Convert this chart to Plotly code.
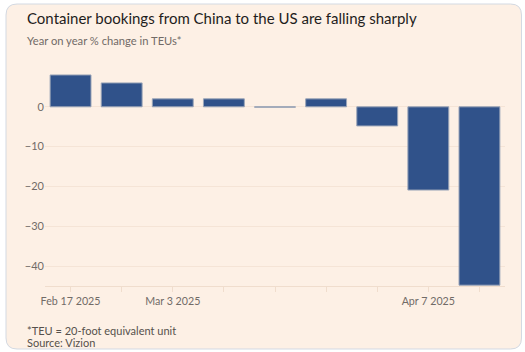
import plotly.graph_objects as go

weeks = ["2025-02-17", "2025-02-24", "2025-03-03", "2025-03-10", "2025-03-17",
         "2025-03-24", "2025-03-31", "2025-04-07", "2025-04-14"]
yoy_change = [8.0, 6.0, 2.0, 2.0, -0.1, 2.0, -4.8, -20.9, -44.8]
tick_labels = ["Feb 17 2025", "", "Mar 3 2025", "", "", "", "", "Apr 7 2025", ""]
y_ticks = [0, -10, -20, -30, -40]

W, H = 525, 352
ML, MR, MT, MB = 45, 20, 67, 66
PW, PH = W - ML - MR, H - MT - MB

def px(x):
    return (x - ML) / PW

def py(y):
    return (H - MB - y) / PH

font = "Lato, 'Noto Sans', sans-serif"

fig = go.Figure()
fig.add_trace(go.Bar(
    x=weeks, y=yoy_change,
    marker=dict(color="#30528A", line=dict(color="#9ba5b8", width=1)),
    hoverinfo="skip",
))

# rounded card background
x0, x1, y0, y1, r = 6, 521.5, 4, 349, 11
path = (
    f"M {px(x0 + r)},{py(y0)} L {px(x1 - r)},{py(y0)} "
    f"Q {px(x1)},{py(y0)} {px(x1)},{py(y0 + r)} "
    f"L {px(x1)},{py(y1 - r)} Q {px(x1)},{py(y1)} {px(x1 - r)},{py(y1)} "
    f"L {px(x0 + r)},{py(y1)} Q {px(x0)},{py(y1)} {px(x0)},{py(y1 - r)} "
    f"L {px(x0)},{py(y0 + r)} Q {px(x0)},{py(y0)} {px(x0 + r)},{py(y0)} Z"
)
fig.add_shape(type="path", path=path, xref="paper", yref="paper",
              fillcolor="#FDF0E5", line=dict(color="#d3d9e2", width=1),
              layer="below")

anns = [
    ("Container bookings from China to the US are falling sharply", 25, 18, 15, "#1f1d1c"),
    ("Year on year % change in TEUs*", 25, 41, 11.2, "#716b67"),
    ("*TEU = 20-foot equivalent unit", 25, 330, 11, "#55504c"),
    ("Source: Vizion", 25, 342.5, 11, "#55504c"),
]
for text, x, y, size, color in anns:
    fig.add_annotation(text=text, x=px(x), y=py(y), xref="paper", yref="paper",
                       xanchor="left", yanchor="middle", showarrow=False,
                       font=dict(family=font, size=size, color=color))

fig.update_layout(
    width=W, height=H,
    margin=dict(l=ML, r=MR, t=MT, b=MB, pad=0),
    paper_bgcolor="white", plot_bgcolor="rgba(0,0,0,0)",
    bargap=0.2, showlegend=False,
    font=dict(family=font, size=11, color="#716b67"),
    xaxis=dict(
        type="date", range=["2025-02-13 12:00", "2025-04-17 12:00"],
        tickmode="array", tickvals=weeks, ticktext=tick_labels,
        ticks="outside", ticklen=5, tickcolor="#f0ddcd",
        showline=True, linecolor="#f0ddcd", linewidth=1,
        showgrid=False, zeroline=False,
        tickfont=dict(size=10.7, color="#716b67"),
    ),
    yaxis=dict(
        range=[-45, 10], tickmode="array", tickvals=y_ticks,
        showgrid=True, gridcolor="#f5e4d6", gridwidth=1,
        zeroline=False, ticks="", showline=False,
        tickfont=dict(size=11, color="#716b67"),
    ),
)

fig.write_html("out.html")
